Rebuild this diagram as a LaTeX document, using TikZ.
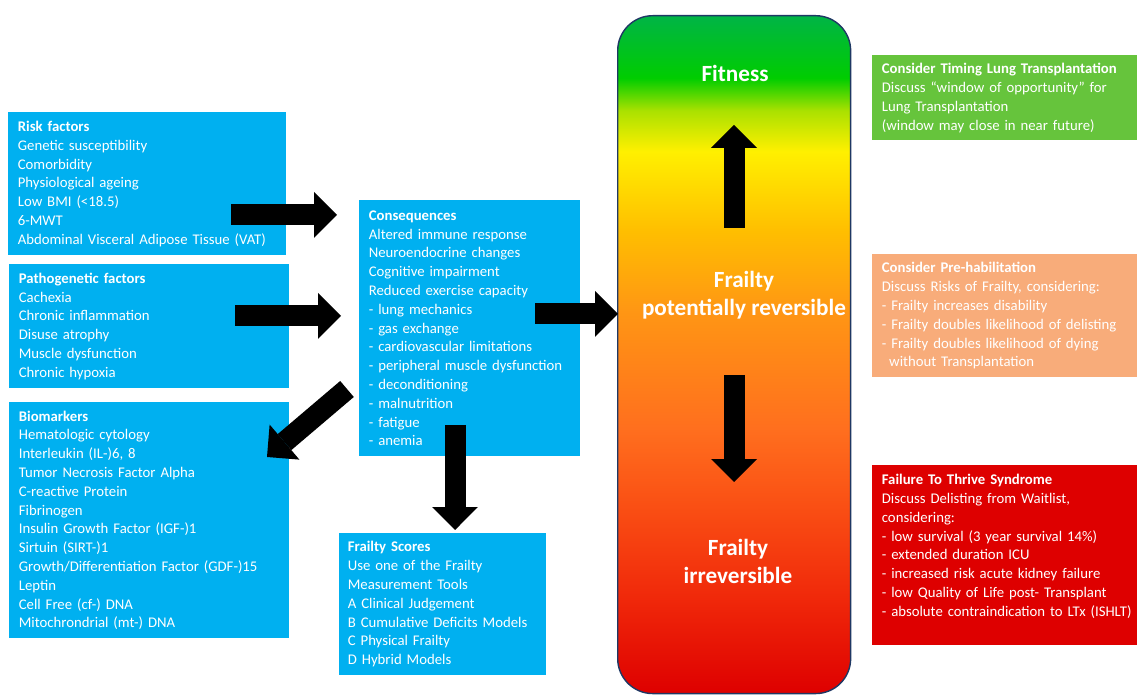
\documentclass[tikz,border=0pt]{standalone}
\usepackage{fontspec}
\setmainfont{Carlito}
\usetikzlibrary{arrows.meta}
\hyphenpenalty=10000
\exhyphenpenalty=10000
\definecolor{boxblue}{RGB}{0,176,240}
\definecolor{boxgreen}{RGB}{102,196,60}
\definecolor{boxpeach}{RGB}{248,172,122}
\definecolor{boxred}{RGB}{222,0,0}
\definecolor{barline}{RGB}{31,56,100}
\definecolor{bar0}{RGB}{222,0,0}
\definecolor{bar1}{RGB}{240,40,10}
\definecolor{bar2}{RGB}{250,80,20}
\definecolor{bar3}{RGB}{255,110,30}
\definecolor{bar4}{RGB}{255,150,20}
\definecolor{bar5}{RGB}{255,190,0}
\definecolor{bar6}{RGB}{255,240,0}
\definecolor{bar7}{RGB}{170,225,0}
\definecolor{bar8}{RGB}{0,205,0}
\definecolor{bar9}{RGB}{0,180,70}
\pgfdeclareverticalshading{frailbar}{100bp}{color(0bp)=(bar0); color(25bp)=(bar0);
  color(32bp)=(bar1); color(39bp)=(bar2); color(44.4bp)=(bar3); color(53.2bp)=(bar4);
  color(59.1bp)=(bar5); color(65bp)=(bar6); color(68bp)=(bar7); color(70.4bp)=(bar8);
  color(75bp)=(bar9); color(100bp)=(bar9)}
\begin{document}
\begin{tikzpicture}[x=0.02cm, y=-0.02cm, font=\fontsize{8.4}{10.7}\selectfont]
  \tikzstyle{infobox} = [anchor=north west, align=left, text=white, inner xsep=0.19cm, inner ysep=0pt]
  \tikzstyle{bigarrow} = [line width=0.42cm, -{Triangle[length=0.46cm, width=0.92cm, line width=0pt]}]
  \tikzstyle{barlabel} = [text=white, align=center, font=\fontsize{13.2}{15.9}\selectfont\bfseries]

  \useasboundingbox (0,0) rectangle (1137,695);
  \clip (0,0) rectangle (1137,695);

  \node[infobox, fill=boxblue, text width=5.18cm, minimum height=2.86cm] (risk) at (8,112)
    {\textbf{Risk factors}\\Genetic susceptibility\\Comorbidity\\Physiological ageing\\
     Low BMI (<18.5)\\6-MWT\\Abdominal Visceral Adipose Tissue (VAT)};
  \node[infobox, fill=boxblue, text width=5.22cm, minimum height=2.48cm] (patho) at (9,264)
    {\textbf{Pathogenetic factors}\\Cachexia\\Chronic inflammation\\Disuse atrophy\\
     Muscle dysfunction\\Chronic hypoxia};
  \node[infobox, fill=boxblue, text width=5.22cm, minimum height=4.72cm] (bio) at (9,402)
    {\textbf{Biomarkers}\\Hematologic cytology\\Interleukin (IL-)6, 8\\Tumor Necrosis Factor Alpha\\
     C-reactive Protein\\Fibrinogen\\Insulin Growth Factor (IGF-)1\\Sirtuin (SIRT-)1\\
     Growth/Differentiation Factor (GDF-)15\\Leptin\\Cell Free (cf-) DNA\\Mitochrondrial (mt-) DNA};
  \node[infobox, fill=boxblue, text width=4.04cm, minimum height=5.12cm] (conseq) at (359,200)
    {\textbf{Consequences}\\Altered immune response\\Neuroendocrine changes\\Cognitive impairment\\
     Reduced exercise capacity\\- lung mechanics\\- gas exchange\\- cardiovascular limitations\\
     - peripheral muscle dysfunction\\- deconditioning\\- malnutrition\\- fatigue\\- anemia};
  \node[infobox, fill=boxblue, inner xsep=0.17cm, text width=3.8cm, minimum height=2.84cm] (scores) at (339,533)
    {\textbf{Frailty Scores}\\Use one of the Frailty\\Measurement Tools\\A Clinical Judgement\\
     B Cumulative Deficits Models\\C Physical Frailty\\D Hybrid Models};

  \node[anchor=north west, draw=barline, line width=0.8pt, rounded corners=0.7cm, shading=frailbar,
        minimum width=4.66cm, minimum height=13.56cm, inner sep=0pt] (bar) at (617,15) {};
  \node[barlabel] (fitlbl) at (735,73) {Fitness};
  \node[barlabel] (revlbl) at (744,295) {Frailty\\potentially reversible};
  \node[barlabel] (irrlbl) at (738,561) {Frailty\\irreversible};

  \node[infobox, fill=boxgreen, text width=5.36cm, minimum height=1.7cm] (timing) at (872,55)
    {\textbf{Consider Timing Lung Transplantation}\\Discuss “window of opportunity” for\\
     Lung Transplantation\\(window may close in near future)};
  \node[infobox, fill=boxpeach, text width=5.36cm, minimum height=2.46cm] (prehab) at (872,254)
    {\textbf{Consider Pre-habilitation}\\Discuss Risks of Frailty, considering:\\
     - Frailty increases disability\\- Frailty doubles likelihood of delisting\\
     - Frailty doubles likelihood of dying\\\hspace*{0.5em}without Transplantation};
  \node[infobox, fill=boxred, text width=5.36cm, minimum height=3.6cm] (ftt) at (872,465)
    {\textbf{Failure To Thrive Syndrome}\\Discuss Delisting from Waitlist,\\considering:\\
     - low survival (3 year survival 14\%)\\- extended duration ICU\\
     - increased risk acute kidney failure\\- low Quality of Life post- Transplant\\
     - absolute contraindication to LTx (ISHLT)\rule[-0.4cm]{0pt}{0.1pt}};

  \coordinate (riskout) at (231,215);
  \coordinate (riskin) at (337,215);
  \coordinate (pathout) at (235,316);
  \coordinate (pathin) at (341,316);
  \coordinate (consout) at (535,314);
  \coordinate (barin) at (618,314);
  \coordinate (biotail) at (347,389);
  \coordinate (biotip) at (267,457);
  \coordinate (scoretail) at (455,425);
  \coordinate (scoretip) at (455,530);
  \coordinate (uptail) at (734,228);
  \coordinate (uptip) at (734,125);
  \coordinate (downtail) at (734,375);
  \coordinate (downtip) at (734,482);

  \draw[bigarrow] (riskout) -- (riskin);
  \draw[bigarrow] (pathout) -- (pathin);
  \draw[bigarrow] (consout) -- (barin);
  \draw[bigarrow] (biotail) -- (biotip);
  \draw[bigarrow] (scoretail) -- (scoretip);
  \draw[bigarrow] (uptail) -- (uptip);
  \draw[bigarrow] (downtail) -- (downtip);
\end{tikzpicture}
\end{document}
